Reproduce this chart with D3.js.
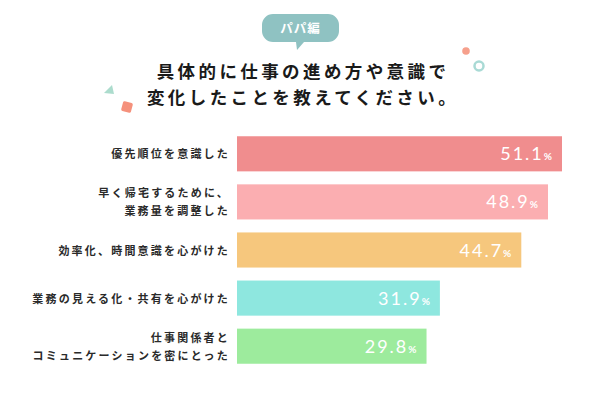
<!DOCTYPE html>
<html><head><meta charset="utf-8">
<script src="https://cdn.jsdelivr.net/npm/d3@7"></script>
<style>body{margin:0;background:#fff}svg{display:block}</style>
</head><body>
<svg id="c" width="600" height="400"></svg>
<script>
const categories = [
  ["優先順位を意識した"],
  ["早く帰宅するために、", "業務量を調整した"],
  ["効率化、時間意識を心がけた"],
  ["業務の見える化・共有を心がけた"],
  ["仕事関係者と", "コミュニケーションを密にとった"]
];
const values = [51.1, 48.9, 44.7, 31.9, 29.8];
const colors = ["#f08d8e", "#fbaeb1", "#f6c77d", "#8ee7df", "#9deb9d"];
const titleLines = ["具体的に仕事の進め方や意識で", "変化したことを教えてください。"];
const badgeText = "パパ編";

const svg = d3.select("#c");
const jp = "'Noto Sans CJK JP','Noto Sans',sans-serif";

// decorations
svg.append("circle").attr("cx", 466).attr("cy", 51).attr("r", 3.8).attr("fill", "#f6a08c");
svg.append("circle").attr("cx", 479).attr("cy", 66).attr("r", 4.5).attr("fill", "none").attr("stroke", "#a9dad5").attr("stroke-width", 2.5);
svg.append("path").attr("d", "M104,93 L112,85 L114,94 Z").attr("fill", "#acdccd");
svg.append("rect").attr("x", -5).attr("y", -5).attr("width", 10).attr("height", 10).attr("rx", 1.5)
  .attr("fill", "#f5917c").attr("transform", "translate(127,107) rotate(15)");

// badge
svg.append("path")
  .attr("d", "M273,14 H328 A11,11 0 0 1 339,25 V31 A11,11 0 0 1 328,42 H304 L297,50 L296,42 H273 A11,11 0 0 1 262,31 V25 A11,11 0 0 1 273,14 Z")
  .attr("fill", "#8fc2c2");
svg.append("text").attr("x", 300.5).attr("y", 33).attr("text-anchor", "middle")
  .attr("fill", "#fff").attr("font-family", jp).attr("font-weight", 700).attr("font-size", 12.5)
  .attr("letter-spacing", 1).text(badgeText);

// title
svg.selectAll("text.title").data(titleLines).join("text").attr("class", "title")
  .attr("x", 303).attr("y", (d, i) => 78 + i * 26).attr("text-anchor", "middle")
  .attr("font-family", jp).attr("font-weight", 700).attr("font-size", 17.5)
  .attr("letter-spacing", 3.4).attr("fill", "#1a1a1a").text(d => d);

// scales
const x = d3.scaleLinear().domain([0, 51.1]).range([237, 562]);
const y = d3.scaleBand().domain(d3.range(values.length)).range([130, 370]).paddingInner(0.27).paddingOuter(0.13);

const g = svg.append("g");
g.selectAll("rect.bar").data(values).join("rect").attr("class", "bar")
  .attr("x", x(0)).attr("y", (d, i) => y(i)).attr("width", d => x(d) - x(0)).attr("height", y.bandwidth())
  .attr("fill", (d, i) => colors[i]);

// value labels
const vl = g.selectAll("text.val").data(values).join("text").attr("class", "val")
  .attr("x", d => x(d) - 10).attr("y", (d, i) => y(i) + y.bandwidth() / 2 + 6.5)
  .attr("text-anchor", "end").attr("fill", "#fff")
  .attr("font-family", "'Lato','Noto Sans',sans-serif").attr("font-weight", 400);
vl.append("tspan").attr("font-size", 18).attr("letter-spacing", 2).text(d => d.toFixed(1));
vl.append("tspan").attr("font-size", 10).attr("font-weight", 700).attr("dx", 0).text("%");

// category labels
categories.forEach((lines, i) => {
  const cy = y(i) + y.bandwidth() / 2;
  const n = lines.length;
  lines.forEach((ln, j) => {
    g.append("text").attr("x", 230).attr("y", cy + 4.5 + (j - (n - 1) / 2) * 18)
      .attr("text-anchor", "end").attr("font-family", jp).attr("font-weight", 700)
      .attr("font-size", 11).attr("letter-spacing", 2.2).attr("fill", "#2a2a2a").text(ln);
  });
});
</script>
</body></html>
